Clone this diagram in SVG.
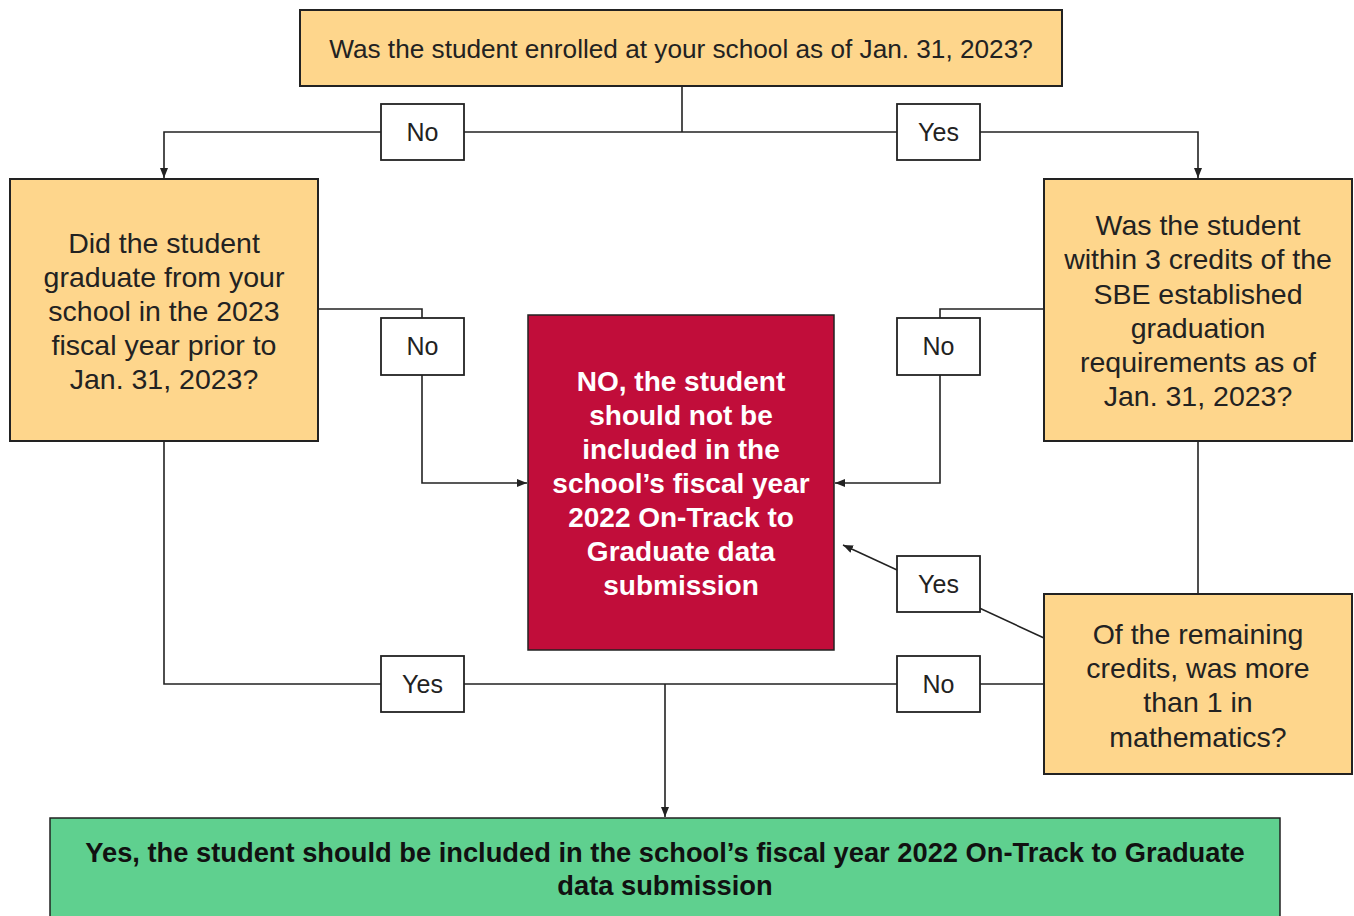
<svg xmlns="http://www.w3.org/2000/svg" width="1354" height="916" viewBox="0 0 1354 916">
<defs>
<style>
.q{fill:#fed68c;stroke:#222;stroke-width:2}
.lbl{fill:#fff;stroke:#222;stroke-width:1.8}
.t{font-family:"Liberation Sans",Arial,sans-serif;font-size:28.5px;fill:#222;text-anchor:middle}
.tl{font-family:"Liberation Sans",Arial,sans-serif;font-size:25px;fill:#222;text-anchor:middle}
.b{font-family:"Liberation Sans",Arial,sans-serif;font-weight:bold;text-anchor:middle}
.c{fill:none;stroke:#222;stroke-width:1.6}
</style>
<marker id="ah" markerUnits="userSpaceOnUse" markerWidth="10" markerHeight="10" viewBox="0 0 10 10" refX="10" refY="5" orient="auto">
<path d="M0,1 L10,5 L0,9 Z" fill="#222"/>
</marker>
</defs>
<rect width="1354" height="916" fill="#fff"/>
<g id="connectors">
<path class="c" d="M682,86 V132"/>
<path class="c" d="M682,132 H164 V178" marker-end="url(#ah)"/>
<path class="c" d="M682,132 H1198 V178" marker-end="url(#ah)"/>
<path class="c" d="M318,309 H422 V483 H527" marker-end="url(#ah)"/>
<path class="c" d="M1044,309 H940 V483 H835" marker-end="url(#ah)"/>
<path class="c" d="M1198,441 V594"/>
<path class="c" d="M1044,638 L843,545" marker-end="url(#ah)"/>
<path class="c" d="M164,441 V684 H1044"/>
<path class="c" d="M665,684 V817" marker-end="url(#ah)"/>
</g>
<g id="q1">
<rect class="q" x="300" y="10" width="762" height="76"/>
<text class="t" x="681" y="58" style="font-size:26.2px">Was the student enrolled at your school as of Jan. 31, 2023?</text>
</g>
<g id="q2">
<rect class="q" x="10" y="179" width="308" height="262"/>
<text class="t" x="164"><tspan x="164" y="253">Did the student</tspan><tspan x="164" y="287">graduate from your</tspan><tspan x="164" y="321">school in the 2023</tspan><tspan x="164" y="355">fiscal year prior to</tspan><tspan x="164" y="389">Jan. 31, 2023?</tspan></text>
</g>
<g id="q3">
<rect class="q" x="1044" y="179" width="308" height="262"/>
<text class="t" x="1198"><tspan x="1198" y="235">Was the student</tspan><tspan x="1198" y="269">within 3 credits of the</tspan><tspan x="1198" y="304">SBE established</tspan><tspan x="1198" y="338">graduation</tspan><tspan x="1198" y="372">requirements as of</tspan><tspan x="1198" y="406">Jan. 31, 2023?</tspan></text>
</g>
<g id="q4">
<rect class="q" x="1044" y="594" width="308" height="180"/>
<text class="t" x="1198"><tspan x="1198" y="644">Of the remaining</tspan><tspan x="1198" y="678">credits, was more</tspan><tspan x="1198" y="712">than 1 in</tspan><tspan x="1198" y="747">mathematics?</tspan></text>
</g>
<g id="no-result">
<rect x="528" y="315" width="306" height="335" fill="#c10d3a" stroke="#222" stroke-width="1.5"/>
<text class="b" x="681" style="font-size:28px;fill:#fff"><tspan x="681" y="391">NO, the student</tspan><tspan x="681" y="425">should not be</tspan><tspan x="681" y="459">included in the</tspan><tspan x="681" y="493">school’s fiscal year</tspan><tspan x="681" y="527">2022 On-Track to</tspan><tspan x="681" y="561">Graduate data</tspan><tspan x="681" y="595">submission</tspan></text>
</g>
<g id="yes-result">
<rect x="50" y="818" width="1230" height="110" fill="#5fd08f" stroke="#222" stroke-width="1.5"/>
<text class="b" x="665" style="font-size:27.3px;fill:#111"><tspan x="665" y="862">Yes, the student should be included in the school’s fiscal year 2022 On-Track to Graduate</tspan><tspan x="665" y="895">data submission</tspan></text>
</g>
<g id="lbl-no-top">
<rect class="lbl" x="381" y="104" width="83" height="56"/>
<text class="tl" x="422.5" y="141">No</text>
</g>
<g id="lbl-yes-top">
<rect class="lbl" x="897" y="104" width="83" height="56"/>
<text class="tl" x="938.5" y="141">Yes</text>
</g>
<g id="lbl-no-left">
<rect class="lbl" x="381" y="318" width="83" height="57"/>
<text class="tl" x="422.5" y="355">No</text>
</g>
<g id="lbl-no-right">
<rect class="lbl" x="897" y="318" width="83" height="57"/>
<text class="tl" x="938.5" y="355">No</text>
</g>
<g id="lbl-yes-math">
<rect class="lbl" x="897" y="556" width="83" height="56"/>
<text class="tl" x="938.5" y="593">Yes</text>
</g>
<g id="lbl-yes-bottom">
<rect class="lbl" x="381" y="656" width="83" height="56"/>
<text class="tl" x="422.5" y="693">Yes</text>
</g>
<g id="lbl-no-bottom">
<rect class="lbl" x="897" y="656" width="83" height="56"/>
<text class="tl" x="938.5" y="693">No</text>
</g>
</svg>
